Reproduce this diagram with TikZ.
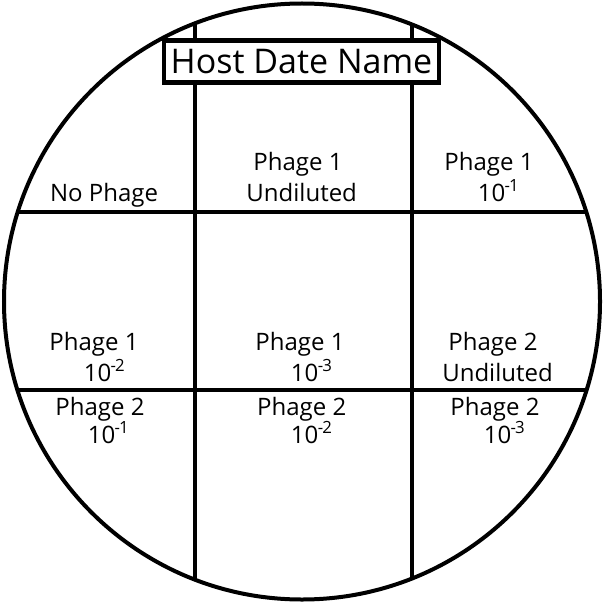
\documentclass[tikz,border=0pt]{standalone}
\usepackage{fontspec}
\setmainfont{Open Sans}
\tikzset{
  cell/.style={font=\fontsize{24}{30}\selectfont, anchor=base, inner sep=0pt},
  titlebox/.style={draw, fill=white, line width=4.5pt, inner sep=0pt,
    minimum width=275pt, minimum height=42pt, font=\fontsize{34}{40}\selectfont},
}
\newcommand{\dil}[1]{10\textsuperscript{\kern-0.5pt-\kern-1pt#1}}
\begin{document}
\begin{tikzpicture}[x=1pt,y=-1pt,line width=4pt]
\useasboundingbox (0,0) rectangle (603,604);
\coordinate (c) at (302,301.5);
% grid of the plate
\begin{scope}
\clip (c) circle (298pt);
\draw (194.7,0)--(194.7,604);
\draw (411.7,0)--(411.7,604);
\draw (0,212)--(603,212);
\draw (0,390)--(603,390);
\end{scope}
\draw (c) circle (298pt);
\node[titlebox] (title) at (301.5,61.3) {Host Date Name};
% row 1
\node[cell] (nophage) at (104,201) {No Phage};
\node[cell] (p1a) at (298,170.7) {Phage 1};
\node[cell] (p1au) at (301.7,201) {Undiluted};
\node[cell] (p1b) at (489,170.7) {Phage 1};
\node[cell] (p1bd) at (498.5,201) {\dil{1}};
% row 2
\node[cell] (p1c) at (94,350.7) {Phage 1};
\node[cell] (p1cd) at (104.5,381) {\dil{2}};
\node[cell] (p1d) at (300,350.7) {Phage 1};
\node[cell] (p1dd) at (311.7,381) {\dil{3}};
\node[cell] (p2a) at (493,350.7) {Phage 2};
\node[cell] (p2au) at (497.5,381) {Undiluted};
% row 3
\node[cell] (p2b) at (100,415) {Phage 2};
\node[cell] (p2bd) at (108.5,443) {\dil{1}};
\node[cell] (p2c) at (301.7,415) {Phage 2};
\node[cell] (p2cd) at (311.7,443) {\dil{2}};
\node[cell] (p2d) at (495,415) {Phage 2};
\node[cell] (p2dd) at (504.5,443) {\dil{3}};
\end{tikzpicture}
\end{document}
